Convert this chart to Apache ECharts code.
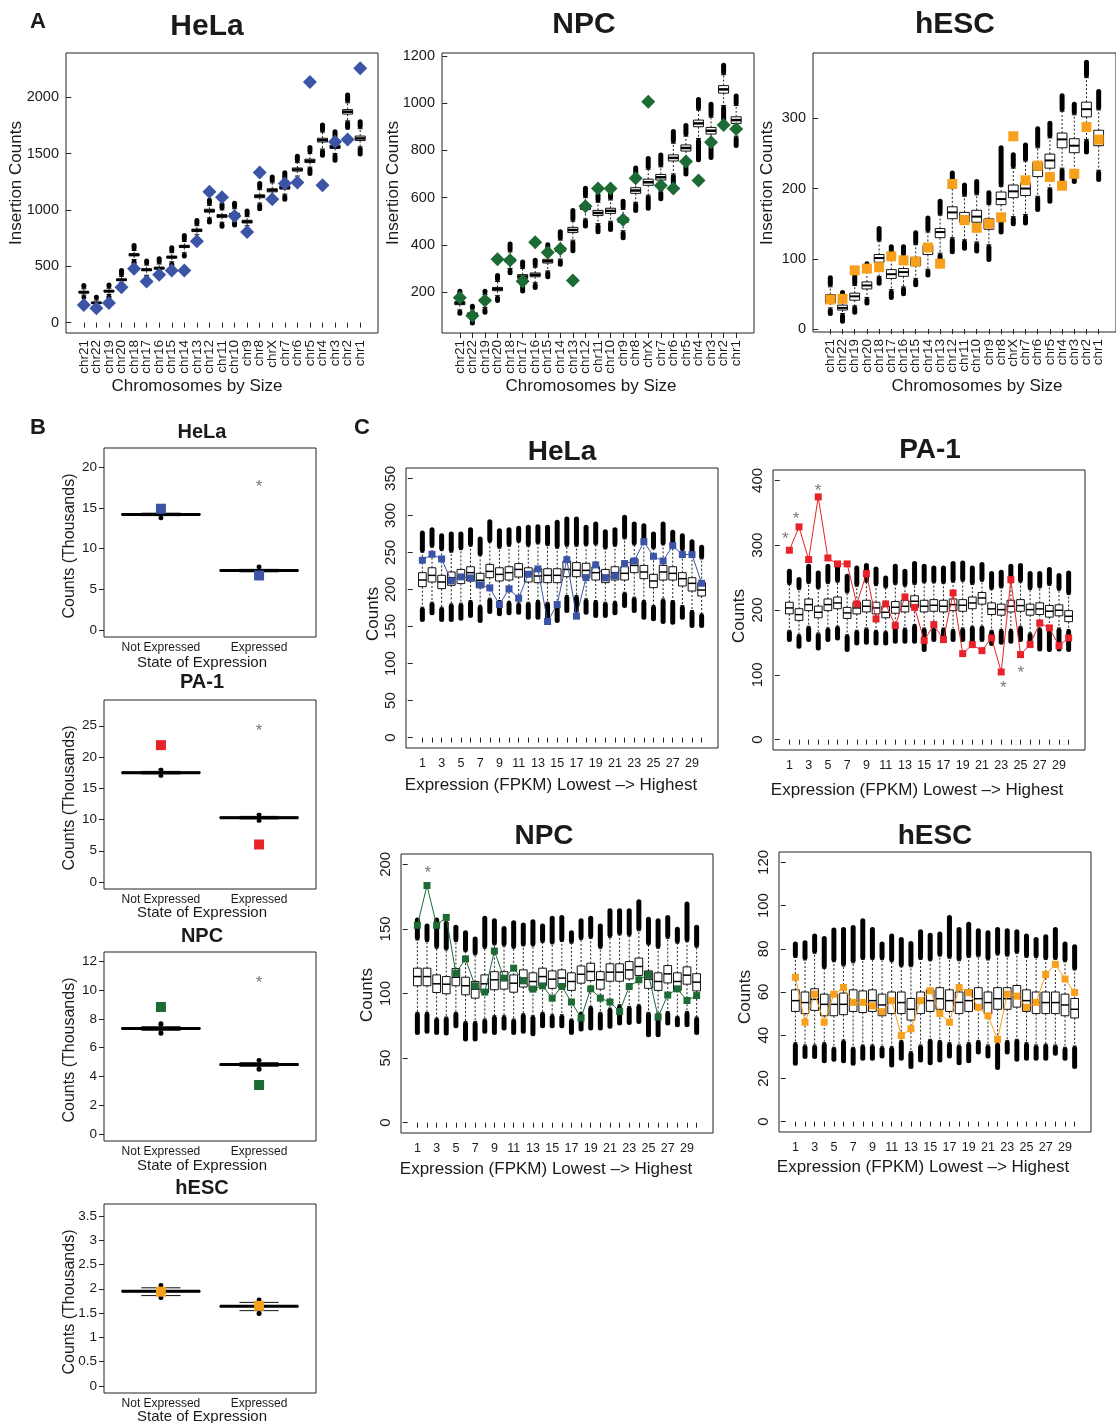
<!DOCTYPE html>
<html><head><meta charset="utf-8">
<script src="https://cdn.jsdelivr.net/npm/echarts@6/dist/echarts.min.js"></script>
<style>html,body{margin:0;padding:0;background:#fff}#c{width:1116px;height:1423px}</style>
</head><body><div id="c"></div>
<script>
// ---------- categories / ticks ----------
const chrCats = ['chr21','chr22','chr19','chr20','chr18','chr17','chr16','chr15','chr14','chr13','chr12','chr11','chr10','chr9','chr8','chrX','chr7','chr6','chr5','chr4','chr3','chr2','chr1'];
const chrTicks = [1,2,3,4,5,6,7,8,9,10,11,12,13,14,15,16,17,18,19,20,21,22,23];
const chrOdd = [1,3,5,7,9,11,13,15,17,19,21,23];
const chrEven = [2,4,6,8,10,12,14,16,18,20,22];
const bCats = ['Not Expressed','Expressed'];
const cTicks = [1,2,3,4,5,6,7,8,9,10,11,12,13,14,15,16,17,18,19,20,21,22,23,24,25,26,27,28,29,30];
const cLabels = [1,3,5,7,9,11,13,15,17,19,21,23,25,27,29];
const A_hela_yt = [0,500,1000,1500,2000];
const A_npc_yt = [200,400,600,800,1000,1200];
const A_hesc_yt = [0,100,200,300];
const B_hela_yt = [0,5,10,15,20];
const B_pa1_yt = [0,5,10,15,20,25];
const B_npc_yt = [0,2,4,6,8,10,12];
const B_hesc_yt = [0,0.5,1,1.5,2,2.5,3,3.5];
const C_hela_yt = [0,50,100,150,200,250,300,350];
const C_pa1_yt = [0,100,200,300,400];
const C_npc_yt = [0,50,100,150,200];
const C_hesc_yt = [0,20,40,60,80,100,120];

// ---------- box summaries: [outlierLow, whiskerLow, Q1, median, Q3, whiskerHigh, outlierHigh] ----------
const A_hela_box = [
[225,245,262,270,278,300,330],[160,160,170,175,182,200,225],[225,250,272,279,287,305,333],[355,355,372,380,388,410,463],
[522,560,592,602,612,640,685],[400,420,460,469,478,510,546],[403,440,474,483,492,520,566],[507,540,572,581,590,620,664],
[590,620,666,676,686,720,774],[780,780,808,819,830,860,907],[893,930,980,993,1006,1040,1085],[854,890,934,946,958,1000,1047],
[866,905,946,958,970,1010,1058],[860,860,884,896,908,940,990],[1011,1060,1108,1121,1134,1180,1234],[1120,1120,1160,1174,1188,1240,1293],
[1094,1140,1184,1198,1212,1260,1329],[1300,1300,1344,1358,1372,1420,1477],[1323,1380,1420,1435,1450,1500,1554],[1486,1540,1602,1619,1636,1690,1753],
[1441,1500,1545,1560,1575,1630,1693],[1732,1790,1850,1871,1890,1950,2020],[1495,1560,1615,1634,1655,1720,1782]];
const A_hela_pts = [157,128,175,314,477,365,424,463,463,721,1160,1112,945,804,1331,1094,1234,1243,2135,1219,1604,1625,2257];

const A_npc_box = [
[111,125,147,153,160,185,204],[69,85,98,105,112,125,140],[115,135,158,165,172,190,204],[165,185,206,213,220,245,270],
[282,300,327,335,343,370,404],[205,230,258,266,274,300,327],[220,240,265,273,281,305,335],[265,290,323,331,339,370,401],
[318,340,372,380,388,420,455],[375,420,452,463,474,500,545],[480,510,550,560,570,600,640],[455,490,524,535,546,580,610],
[465,500,533,544,555,590,620],[430,460,495,505,515,550,585],[545,580,618,630,642,680,725],[555,610,652,665,678,720,765],
[595,630,674,686,698,730,780],[660,700,755,768,781,830,880],[700,750,797,810,823,860,905],[760,850,900,914,928,970,1015],
[770,820,869,883,897,940,995],[930,990,1042,1058,1074,1120,1160],[820,860,914,928,942,990,1030]];
const A_npc_pts = [176,100,165,339,335,246,411,368,382,249,563,639,639,506,682,1006,651,639,753,672,834,907,890];

const A_hesc_box = [
[22,30,37,42,49,60,73],[11,22,27,30,34,45,52],[24,33,41,46.5,51,62,75],[37,45,57,62,67,82,93],
[65,75,95,101,106,125,143],[45,56,72,78,84.5,100,117],[50,60,75,81,86,104,117],[63,72,90,96,102,120,137],
[77,85,106,113,119,138,158],[98,108,130,138,143,162,182],[110,130,157,166,174,200,222],[115,127,152,160,166,189,205],
[111,124,152,160,169,191,210],[99,120,142,150,157,177,194],[138,160,177,185,195,203,258],[150,160,187,196,205,229,248],
[151,163,190,200,208,239,262],[170,189,217,227,237,258,285],[182,201,229,240,249,272,293],[208,229,258,270,279,310,332],
[210,220,251,261,271,305,320],[252,270,302,313,323,358,380],[213,226,261,273,283,312,338]];
const A_hesc_pts = [42,43,83.5,86,88,103.4,97.7,96,116,93,206.5,155,144,150,159,274.4,211.7,232.6,216.5,204,221,287.7,269.7];

const B_hela_box = [[13.8,14.05,14.12,14.2,14.28,14.35,14.5],[6.9,7.15,7.25,7.3,7.35,7.45,7.75]];
const B_hela_pts = [14.9,6.7];
const B_hela_star = [[2,18.06]];
const B_pa1_box = [[17.1,17.3,17.45,17.5,17.6,17.7,17.9],[9.9,10.1,10.25,10.3,10.4,10.5,10.7]];
const B_pa1_pts = [21.9,6.0];
const B_pa1_star = [[2,24.7]];
const B_npc_box = [[7.0,7.2,7.28,7.33,7.38,7.45,7.65],[4.5,4.7,4.77,4.82,4.87,4.95,5.1]];
const B_npc_pts = [8.82,3.40];
const B_npc_star = [[2,10.73]];
const B_hesc_box = [[1.82,1.86,1.94,1.947,1.955,2.02,2.07],[1.49,1.55,1.635,1.64,1.645,1.72,1.77]];
const B_hesc_pts = [1.94,1.65];

const C_hela_box = [
[159.5,176.1,203.8,212.8,222.7,250.2,276.3],[168.5,182.8,210.1,219.1,229.3,257,280.8],[159.5,176.1,201.1,210.1,219.1,252.5,272.7],
[159.5,180.6,205.6,215.9,223.6,250.2,274.9],[161.3,181.5,207.9,218.2,227.1,253.8,274.9],[164.9,185.1,211.5,222.7,230.7,258.3,280.8],
[158.1,178.3,202.5,212.4,221.8,245.7,268.2],[170.3,188.2,215.9,224.4,233.9,263.7,291.5],[167.1,185.1,211.5,220.4,229.3,255.6,279.4],
[168.5,183.7,212.8,222.7,230.7,258.3,280.8],[169.4,181.9,216.8,227.1,234.9,263.7,282.6],[162.6,182.8,210.1,220.4,229.3,258.3,283.9],
[162.6,185.1,209.2,218.2,228,261.5,284.8],[161.3,182.8,209.2,219.1,228,259.2,283.9],[158.1,183.7,209.2,219.1,228,255.6,290.6],
[171.6,191.8,217.3,227.1,238.5,258.3,295.1],[171.6,191.8,217.3,226,236.3,258.3,295.1],[169.4,187.3,215.9,225.8,235.4,259.2,283.9],
[164.9,185.1,212.8,222.7,230.7,260.1,288.4],[164.9,182.8,209.2,219.1,227.1,254.7,278.1],[168.5,183.7,212.8,222.7,230.7,258.3,280.8],
[178.3,196.3,212.8,221.8,230.7,268.2,297.4],[171.6,189.6,222.7,232.5,241.2,260.1,288.4],[162.6,185.1,214.6,223.6,232.5,261.5,286.2],
[160.4,178.3,202.5,211.5,220.4,254.7,274.9],[156.8,187.3,212.8,223.6,232.5,260.1,288.4],[155.9,185.1,212.8,221.8,230.7,258.3,277.2],
[162.6,178.3,204.7,214.6,222.7,252.5,272.7],[151.4,171.6,197.9,208.3,215.9,248,264.6],[151.4,167.1,191.2,199.3,209.2,241.2,257]];
const C_hela_pts = [239.4,247.5,241.2,211.6,217,215.6,206.2,202.2,179.7,200.8,188.2,220.6,227.8,156.8,179.7,240.3,164,216,233.2,215.6,218.6,235,238.5,264.6,244.8,238.5,259.2,247.1,247.1,208.4];

const C_pa1_box = [
[154.3,168.7,194,203.2,212,239.2,259.8],[144.0,162.0,184,192.9,202,231.5,246.9],[154.3,174.9,199,208.3,217,240.7,267.5],
[141.5,164.6,188,196.5,206,232.5,257.2],[154.3,172.3,199,208.3,217,240.7,267.5],[156.9,174.9,202,210.9,220,242.8,264.9],
[138.9,162.0,187,195.5,204,226.3,252.1],[149.2,168.7,194,203.2,212,236.6,264.9],[150.2,172.3,197,205.8,215,242.8,268.5],
[149.2,168.7,194,203.2,212,237.7,263.4],[149.2,167.2,188,196.5,206,234.1,249.5],[151.8,174.9,195,204.2,213,239.2,267.5],
[151.8,172.3,197,205.8,215,236.6,259.8],[151.8,177.5,204,213.5,222,239.2,271.6],[138.9,172.3,197,205.8,215,241.8,267.5],
[154.3,172.3,198,207.3,216,241.8,264.9],[154.3,172.3,197,205.8,215,240.7,264.9],[154.3,169.8,199,208.3,217,242.8,271.6],
[154.3,172.3,198,207.3,216,244.3,272.6],[151.8,174.9,202,210.9,220,239.2,264.9],[154.3,174.9,209,218.6,227,244.3,270.1],
[148.2,168.7,193,201.7,211,231.5,256.2],[150.2,169.8,192,200.6,209,234.1,258.2],[151.8,169.8,197,205.8,215,241.8,267.5],
[154.3,174.9,198,206.8,216,242.8,268.5],[146.6,164.6,192,200.6,209,231.5,256.2],[139.9,172.3,193,201.7,211,234.1,256.2],
[138.9,168.7,189,198.1,207,237.7,262.3],[139.9,172.3,191,199.6,208,230.5,253.1],[138.9,169.8,182,190.3,199,223.8,257.2]];
const C_pa1_pts = [292.2,328.2,277.8,374.5,280.3,271.1,271.1,209.4,256.2,186.2,209.4,175.9,220.2,204,152.8,177.5,154.3,226.3,132.7,146.6,137.3,156.9,104.4,246.9,131.2,146.6,180,172.4,145,156.9];
const C_pa1_star = [[0.58,316],[1.69,346],[3.97,389],[23.22,85],[25.03,108]];

const C_npc_box = [
[69.9,85.4,106,113.1,119.6,141.4,156.9],[70.7,85.4,106,113.1,119.6,140.2,152.2],[69.9,81.0,100.8,107.5,114.4,135.0,156.9],
[69.4,81.8,99.8,107.2,113.1,133.7,154.3],[75.1,85.4,106,112.6,119.3,140.2,151.2],[64.8,78.4,99,106,112.6,132.4,147.1],
[64.8,78.4,96.4,103.4,109.3,129.9,142.2],[70.7,80.2,100.8,107.5,114.4,135.0,158.2],[69.9,82.8,102.9,110.6,116.9,137.6,156.4],
[73.3,82.8,103.4,110.6,116.9,136.8,150.4],[69.9,80.2,101,108,114.4,135.0,154.8],[70.7,84.3,105,111.9,118.3,136.8,153.0],
[68.9,82.8,102.4,109.3,116,136.8,155.6],[75.1,85.4,106,113.1,119.6,139.4,152.2],[75.1,83.6,104,111.1,117.5,138.4,158.2],
[75.1,83.6,105,111.9,118.3,140.2,158.9],[69.9,80.2,102.4,109.3,116,138.9,147.1],[72.5,85.4,108,114.9,121.3,141.9,156.4],
[73.3,90.0,110,117,123.4,142.7,158.2],[73.3,85.4,103.4,110.6,116.9,135.0,152.2],[74.6,88.7,109.5,116.5,123,143.5,164.1],
[77.1,91.3,109.5,116.5,123,145.3,164.1],[77.6,90.0,111.3,118.3,124.7,144.5,164.1],[78.4,91.3,114,120.9,127.4,148.6,171.0],
[68.1,85.4,104,111.1,117.5,137.6,157.4],[68.1,84.8,102.4,109.3,116,135.0,156.4],[77.1,86.1,108.2,115.2,121.6,142.7,158.9],
[75.9,82.3,102.4,109.3,116,138.9,149.7],[75.9,86.1,107.2,114.2,120.6,140.2,169.2],[69.9,81.8,102,108.8,115.3,135.8,151.2]];
const C_npc_pts = [152.8,183.6,152.8,158.9,115.7,126.8,105.9,101.1,132.9,111.9,119.6,109.8,103.4,105.9,96.4,105.4,93.4,81,103.6,96.4,93.4,86.1,105.4,110.6,114.7,81.8,98.8,103.6,94.6,98.4];
const C_npc_star = [[2.08,196]];

const C_hesc_box = [
[27.0,36.55,51,56.0,61,76.0,82.2],[30.1,35.5,50,55.1,60,74.8,82.8],[30.1,35.5,51.5,56.6,61.5,77.9,85.9],
[28.2,36.55,49,54.3,59,70.9,84.8],[28.85,34.4,49,54.3,59,74.0,88.65],[28.2,37.8,49.5,54.3,59.5,72.0,88.96],
[27.0,34.4,51,56.0,61,73.5,89.9],[29.3,35.5,50.5,55.5,60.5,75.1,92.97],[29.3,35.5,51,56.0,61,75.1,88.96],
[30.4,34.7,49,54.0,59,75.1,82.2],[26.2,34.7,50,55.1,60,74.0,85.9],[29.3,37.5,50,55.1,60,71.7,84.3],
[25.5,32.4,47,52.0,57,71.7,82.5],[28.5,35.5,50,55.1,60,75.1,87.9],[27.3,38.1,51,56.0,61,74.5,86.3],
[28.5,37.5,52,56.9,62,76.6,86.8],[30.4,36.55,51,56.0,61,75.6,94.5],[27.3,35.5,50,55.2,60,74.5,88.96],
[28.2,36.55,51,56.0,61,76.0,91.4],[32.2,37.5,52,56.9,62,76.3,88.3],[30.4,35.5,50,55.1,60,74.8,87.4],
[25.0,36.55,52,56.9,62,77.1,88.96],[32.2,37.5,52,56.9,62,76.6,88.3],[28.85,38.1,53,57.8,63,77.9,87.9],
[29.3,36.55,51,56.0,61,76.0,85.9],[29.3,35.5,50,55.1,60,76.0,84.3],[29.3,35.9,50,55.1,60,75.1,85.6],
[31.6,35.5,50,55.1,60,75.1,88.96],[29.3,34.4,49,54.0,59,74.0,82.2],[25.5,35.0,48,52.0,57,70.2,80.9]];
const C_hesc_pts = [66.8,46,59,46,59,62.1,55.2,55.2,53.6,50.9,56,39.8,43,56,60.6,50.1,46,62.1,59.7,52.9,49,38.1,59,58.1,52.9,55.2,68.1,72.8,66,59.8];

// ---------- styling ----------
const FONT = '"Liberation Sans", Arial, Helvetica, sans-serif';
const TXT = '#1a1a1a';
const BLUE = '#3B54A5', RED = '#E8222A', GREEN = '#1C6A34', ORANGE = '#F6A01B';

const grids = [
  {left:66, top:53, width:312, height:280},      // A HeLa
  {left:442, top:53, width:312, height:280},     // A NPC
  {left:813, top:53, width:314, height:279},     // A hESC
  {left:104, top:448, width:212, height:189},    // B HeLa
  {left:104, top:700, width:212, height:189},    // B PA-1
  {left:104, top:952, width:212, height:189},    // B NPC
  {left:104, top:1204, width:212, height:189},   // B hESC
  {left:406, top:468, width:312, height:280},    // C HeLa
  {left:773, top:470, width:312, height:280},    // C PA-1
  {left:401, top:854, width:312, height:279},    // C NPC
  {left:779, top:852, width:312, height:280}     // C hESC
].map(g => Object.assign({show:true, borderColor:'#222', borderWidth:1, backgroundColor:'#fff', containLabel:false}, g));

function xAx(gi, min, max, ticks, labels, fmt, fs, rot, showTick, margin) {
  return {gridIndex:gi, type:'value', min, max, position:'bottom', offset:0,
    axisLine:{show:false}, splitLine:{show:false},
    axisTick:{show:showTick, inside:false, length:5, customValues:ticks, lineStyle:{color:'#222', width:1}},
    axisLabel:{customValues:labels, formatter:fmt, color:TXT, fontFamily:FONT, fontSize:fs, rotate:rot, margin:margin,
      showMinLabel:true, showMaxLabel:true, hideOverlap:false}};
}
function yAx(gi, min, max, ticks, fs, rot, margin) {
  return {gridIndex:gi, type:'value', min, max,
    axisLine:{show:false}, splitLine:{show:false},
    axisTick:{show:true, inside:false, length:5, customValues:ticks, lineStyle:{color:'#222', width:1}},
    axisLabel:{customValues:ticks, formatter:v => String(v), color:TXT, fontFamily:FONT, fontSize:fs, rotate:rot, margin:margin,
      showMinLabel:true, showMaxLabel:true, hideOverlap:false}};
}
const chrFmt = v => chrCats[Math.round(v) - 1];
const bFmt = v => bCats[Math.round(v) - 1];
const numFmt = v => String(v);

const xAxes = [
  xAx(0, -0.42, 24.42, chrTicks, chrOdd, chrFmt, 13.5, 90, true, 7),
  xAx(1, -0.42, 24.42, chrTicks, chrOdd, chrFmt, 13.5, 90, true, 7),
  xAx(2, -0.42, 24.42, chrTicks, chrOdd, chrFmt, 13.5, 90, true, 7),
  xAx(3, 0.42, 2.58, [1,2], [1,2], bFmt, 12, 0, false, 5),
  xAx(4, 0.42, 2.58, [1,2], [1,2], bFmt, 12, 0, false, 5),
  xAx(5, 0.42, 2.58, [1,2], [1,2], bFmt, 12, 0, false, 5),
  xAx(6, 0.42, 2.58, [1,2], [1,2], bFmt, 12, 0, false, 5),
  xAx(7, -0.7, 31.7, cTicks, cLabels, numFmt, 12.5, 0, true, 9),
  xAx(8, -0.7, 31.7, cTicks, cLabels, numFmt, 12.5, 0, true, 9),
  xAx(9, -0.7, 31.7, cTicks, cLabels, numFmt, 12.5, 0, true, 9),
  xAx(10, -0.7, 31.7, cTicks, cLabels, numFmt, 12.5, 0, true, 9),
  // second label rows for the chromosome axes (even positions), same place as the first
  xAx(0, -0.42, 24.42, chrEven, chrEven, chrFmt, 13.5, 90, false, 7),
  xAx(1, -0.42, 24.42, chrEven, chrEven, chrFmt, 13.5, 90, false, 7),
  xAx(2, -0.42, 24.42, chrEven, chrEven, chrFmt, 13.5, 90, false, 7)
];
const yAxes = [
  yAx(0, -92, 2392, A_hela_yt, 14.5, 0, 7),
  yAx(1, 27, 1212, A_npc_yt, 14.5, 0, 7),
  yAx(2, -4.3, 393, A_hesc_yt, 14.5, 0, 7),
  yAx(3, -0.86, 22.36, B_hela_yt, 13.5, 0, 7),
  yAx(4, -1.12, 29.12, B_pa1_yt, 13.5, 0, 7),
  yAx(5, -0.49, 12.64, B_npc_yt, 13.5, 0, 7),
  yAx(6, -0.144, 3.744, B_hesc_yt, 13.5, 0, 7),
  yAx(7, -14, 364, C_hela_yt, 15, 90, 8),
  yAx(8, -16, 416, C_pa1_yt, 15, 90, 8),
  yAx(9, -8, 208, C_npc_yt, 15, 90, 8),
  yAx(10, -4.8, 124.8, C_hesc_yt, 15, 90, 8)
];

function boxRender(medW, blobW) {
  return function (params, api) {
    const x = api.value(0);
    const c = k => api.coord([x, api.value(k)]);
    const bw = api.size([0.8, 0])[0];
    const pLo = c(1), pWlo = c(2), pQ1 = c(3), pMed = c(4), pQ3 = c(5), pWhi = c(6), pHi = c(7);
    const cx = pMed[0], r = blobW / 2, sw = bw / 4;
    const dash = {stroke:'#222', lineWidth:1, lineDash:[2,2]};
    const solid = {stroke:'#111', lineWidth:1};
    const ch = [
      {type:'line', shape:{x1:cx, y1:pQ3[1], x2:cx, y2:pWhi[1]}, style:dash},
      {type:'line', shape:{x1:cx, y1:pQ1[1], x2:cx, y2:pWlo[1]}, style:dash},
      {type:'line', shape:{x1:cx - sw, y1:pWhi[1], x2:cx + sw, y2:pWhi[1]}, style:solid},
      {type:'line', shape:{x1:cx - sw, y1:pWlo[1], x2:cx + sw, y2:pWlo[1]}, style:solid}
    ];
    if (api.value(7) > api.value(6)) ch.push({type:'rect', shape:{x:cx - r, y:pHi[1] - r, width:2 * r, height:pWhi[1] - pHi[1] + r, r:r}, style:{fill:'#000'}});
    if (api.value(1) < api.value(2)) ch.push({type:'rect', shape:{x:cx - r, y:pWlo[1], width:2 * r, height:pLo[1] - pWlo[1] + r, r:r}, style:{fill:'#000'}});
    ch.push({type:'rect', shape:{x:cx - bw / 2, y:pQ3[1], width:bw, height:Math.max(pQ1[1] - pQ3[1], 0.5)}, style:{fill:'#fff', stroke:'#111', lineWidth:1}});
    ch.push({type:'line', shape:{x1:cx - bw / 2, y1:pMed[1], x2:cx + bw / 2, y2:pMed[1]}, style:{stroke:'#000', lineWidth:medW}});
    return {type:'group', children:ch};
  };
}
function boxSeries(gi, arr, medW, blobW) {
  return {type:'custom', xAxisIndex:gi, yAxisIndex:gi, silent:true, z:2, clip:false,
    renderItem:boxRender(medW, blobW),
    encode:{x:0, y:[1,2,3,4,5,6,7]},
    data:arr.map((b, i) => [i + 1].concat(b))};
}
function ptSeries(gi, arr, symbol, size, color) {
  return {type:'scatter', xAxisIndex:gi, yAxisIndex:gi, z:4, symbol, symbolSize:size,
    itemStyle:{color, opacity:1}, data:arr.map((v, i) => [i + 1, v])};
}
function lineSeries(gi, arr, color) {
  return {type:'line', xAxisIndex:gi, yAxisIndex:gi, z:4, symbol:'rect', symbolSize:7, showSymbol:true,
    lineStyle:{color, width:1}, itemStyle:{color}, data:arr.map((v, i) => [i + 1, v])};
}
function starSeries(gi, arr) {
  return {type:'scatter', xAxisIndex:gi, yAxisIndex:gi, z:5, symbolSize:1, itemStyle:{color:'rgba(0,0,0,0)'},
    label:{show:true, position:'inside', formatter:'*', fontSize:17, fontFamily:FONT, color:'#555', offset:[0, 4]},
    data:arr};
}

const series = [
  boxSeries(0, A_hela_box, 2.5, 5), ptSeries(0, A_hela_pts, 'diamond', 14, BLUE),
  boxSeries(1, A_npc_box, 2.5, 5), ptSeries(1, A_npc_pts, 'diamond', 14, GREEN),
  boxSeries(2, A_hesc_box, 2, 5), ptSeries(2, A_hesc_pts, 'rect', 10, ORANGE),
  boxSeries(3, B_hela_box, 3, 5), ptSeries(3, B_hela_pts, 'rect', 10, BLUE), starSeries(3, B_hela_star),
  boxSeries(4, B_pa1_box, 3, 5), ptSeries(4, B_pa1_pts, 'rect', 10, RED), starSeries(4, B_pa1_star),
  boxSeries(5, B_npc_box, 3, 5), ptSeries(5, B_npc_pts, 'rect', 10, GREEN), starSeries(5, B_npc_star),
  boxSeries(6, B_hesc_box, 3, 5), ptSeries(6, B_hesc_pts, 'rect', 10, ORANGE),
  boxSeries(7, C_hela_box, 1.5, 5), lineSeries(7, C_hela_pts, BLUE),
  boxSeries(8, C_pa1_box, 1.5, 5), lineSeries(8, C_pa1_pts, RED), starSeries(8, C_pa1_star),
  boxSeries(9, C_npc_box, 1.5, 5), lineSeries(9, C_npc_pts, GREEN), starSeries(9, C_npc_star),
  boxSeries(10, C_hesc_box, 1.5, 5), lineSeries(10, C_hesc_pts, ORANGE)
];

// ---------- text annotations ----------
function txt(text, x, y, size, bold, rot) {
  return {type:'text', x, y, rotation:rot ? Math.PI / 2 : 0, z:10, silent:true,
    style:{text, fill:TXT, font:(bold ? 'bold ' : '') + size + 'px ' + FONT,
      align:'center', verticalAlign:'middle', textAlign:'center', textVerticalAlign:'middle'}};
}
const graphic = [
  txt('A', 38, 22, 22, true), txt('B', 38, 428, 22, true), txt('C', 362, 428, 22, true),
  txt('HeLa', 207, 27, 30, true), txt('NPC', 584, 25, 30, true), txt('hESC', 955, 25, 30, true),
  txt('Insertion Counts', 16, 183, 17, false, true), txt('Insertion Counts', 393, 183, 17, false, true), txt('Insertion Counts', 767, 183, 17, false, true),
  txt('Chromosomes by Size', 197, 386, 17), txt('Chromosomes by Size', 591, 386, 17), txt('Chromosomes by Size', 977, 386, 17),
  txt('HeLa', 202, 432, 20, true), txt('PA-1', 202, 682, 20, true), txt('NPC', 202, 936, 20, true), txt('hESC', 202, 1188, 20, true),
  txt('Counts (Thousands)', 70, 546, 16, false, true), txt('Counts (Thousands)', 70, 798, 16, false, true),
  txt('Counts (Thousands)', 70, 1050, 16, false, true), txt('Counts (Thousands)', 70, 1302, 16, false, true),
  txt('State of Expression', 202, 663, 15), txt('State of Expression', 202, 913, 15),
  txt('State of Expression', 202, 1166, 15), txt('State of Expression', 202, 1417, 15),
  txt('HeLa', 562, 452, 28, true), txt('PA-1', 930, 450, 28, true), txt('NPC', 544, 836, 28, true), txt('hESC', 935, 836, 28, true),
  txt('Counts', 373, 614, 17, false, true), txt('Counts', 739, 616, 17, false, true),
  txt('Counts', 367, 995, 17, false, true), txt('Counts', 745, 997, 17, false, true),
  txt('Expression (FPKM) Lowest \u2013> Highest', 551, 785, 17), txt('Expression (FPKM) Lowest \u2013> Highest', 917, 790, 17),
  txt('Expression (FPKM) Lowest \u2013> Highest', 546, 1169, 17), txt('Expression (FPKM) Lowest \u2013> Highest', 923, 1167, 17)
];

const chart = echarts.init(document.getElementById('c'), null, {renderer:'canvas', width:1116, height:1423});
chart.setOption({
  animation:false,
  backgroundColor:'#fff',
  textStyle:{fontFamily:FONT},
  grid:grids, xAxis:xAxes, yAxis:yAxes, series, graphic
});
</script>
</body></html>
